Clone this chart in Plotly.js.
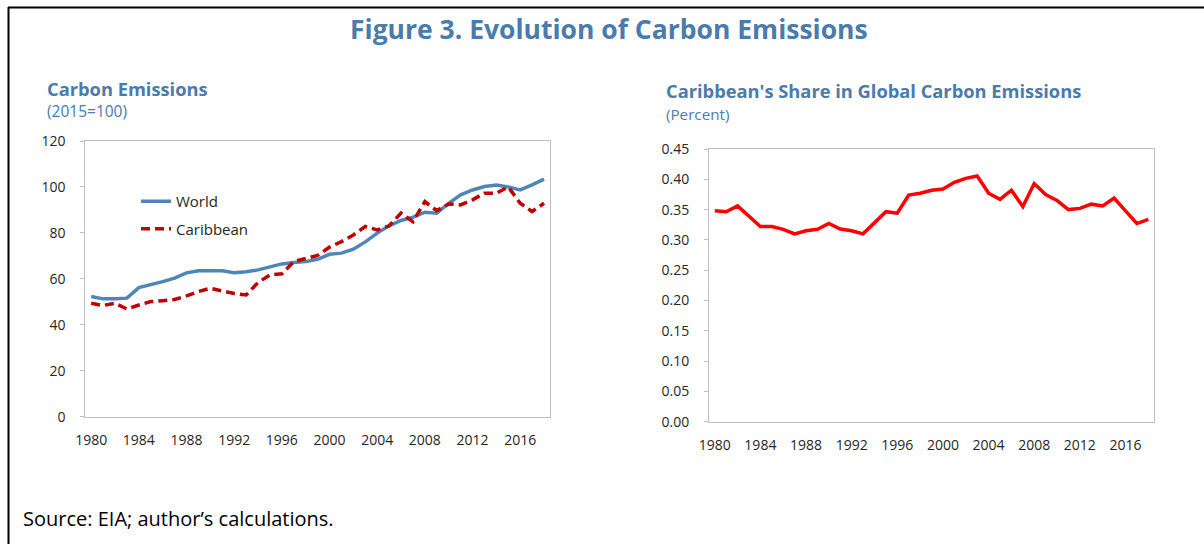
<!DOCTYPE html>
<html>
<head>
<meta charset="utf-8">
<script src="https://cdn.plot.ly/plotly-3.0.1.min.js"></script>
<style>
html,body{margin:0;padding:0;background:#fff;}
#chart{width:1204px;height:544px;}
</style>
</head>
<body>
<div id="chart"></div>
<script>
// ---- Data ----
const years = [1980,1981,1982,1983,1984,1985,1986,1987,1988,1989,1990,1991,1992,1993,1994,1995,1996,1997,1998,1999,2000,2001,2002,2003,2004,2005,2006,2007,2008,2009,2010,2011,2012,2013,2014,2015,2016,2017,2018];
const worldIndex = [52.3,51.3,51.3,51.6,56.2,57.4,58.8,60.3,62.6,63.5,63.5,63.5,62.7,63.1,63.9,65.3,66.5,67.1,67.5,68.5,70.7,71.2,72.9,76.1,79.9,83.1,85.4,86.8,89.0,88.6,92.9,96.6,98.7,100.2,100.8,100.0,98.7,100.9,103.4];
const caribbeanIndex = [49.4,48.4,49.4,46.9,48.6,50.1,50.5,51.0,52.6,54.5,55.9,54.6,53.6,53.0,58.4,61.7,62.2,67.5,68.7,70.2,73.8,76.2,79.1,82.8,81.3,83.1,88.6,84.9,93.6,89.7,92.6,92.2,94.4,97.3,97.3,100.0,92.9,89.3,92.9];
const caribbeanShare = [0.348,0.3465,0.356,0.338,0.322,0.322,0.3175,0.310,0.315,0.3175,0.327,0.318,0.315,0.310,0.329,0.3465,0.344,0.374,0.377,0.382,0.384,0.395,0.4016,0.4054,0.377,0.367,0.382,0.355,0.393,0.375,0.365,0.350,0.352,0.359,0.356,0.369,0.348,0.327,0.334];
const yearLabels = [1980,1984,1988,1992,1996,2000,2004,2008,2012,2016];
const leftTicks = [0,20,40,60,80,100,120];
const rightTicks = [0,0.05,0.10,0.15,0.20,0.25,0.30,0.35,0.40,0.45];

const FONT = 'Open Sans, Noto Sans, sans-serif';
const BLUE_T = '#4A7BAA';
const FRAME = '#BFBFBF';
const TXT = '#262626';

const traces = [
  {x: years, y: worldIndex, type: 'scatter', mode: 'lines', name: 'World',
   xaxis: 'x', yaxis: 'y', legendgroup: 'a',
   line: {color: '#4F86B8', width: 3.5}},
  {x: years, y: caribbeanIndex, type: 'scatter', mode: 'lines', name: 'Caribbean',
   xaxis: 'x', yaxis: 'y', legendgroup: 'b',
   line: {color: '#C00000', width: 3.5, dash: '9px,5px'}},
  {x: years, y: caribbeanShare, type: 'scatter', mode: 'lines', name: 'Share',
   xaxis: 'x2', yaxis: 'y2', showlegend: false,
   line: {color: '#FF0000', width: 3.5}}
];

const xr = [years[0] - 0.5, years[years.length - 1] + 0.5];

function labelAxis(domain, anchor) {
  return {domain: domain, anchor: anchor, range: xr, type: 'linear',
    tickmode: 'array', tickvals: yearLabels, ticktext: yearLabels.map(String),
    ticks: '', showgrid: false, zeroline: false,
    showline: true, linecolor: FRAME, linewidth: 1, mirror: true,
    ticklabelstandoff: 10,
    tickfont: {family: FONT, size: 14, color: TXT}, fixedrange: true};
}
function tickAxis(over, anchor) {
  return {overlaying: over, anchor: anchor, range: xr, type: 'linear',
    tick0: xr[0], dtick: 1, ticks: 'inside', ticklen: 4, tickcolor: FRAME, tickwidth: 1,
    showticklabels: false, showgrid: false, zeroline: false, showline: false, fixedrange: true};
}

const layout = {
  width: 1204, height: 544,
  margin: {l: 0, r: 0, t: 0, b: 0},
  paper_bgcolor: '#fff', plot_bgcolor: '#fff',
  font: {family: FONT, color: TXT},
  xaxis: labelAxis([0.0708, 0.4568], 'y'),
  xaxis3: tickAxis('x', 'y'),
  yaxis: {domain: [0.234, 0.7408], anchor: 'x', range: [0, 120],
    tickmode: 'array', tickvals: leftTicks, ticks: 'outside', ticklen: 4, tickcolor: FRAME,
    showgrid: false, zeroline: false, showline: true, linecolor: FRAME, mirror: true,
    ticklabelstandoff: 12,
    tickfont: {family: FONT, size: 14, color: TXT}, fixedrange: true},
  xaxis2: labelAxis([0.5889, 0.9585], 'y2'),
  xaxis4: tickAxis('x2', 'y2'),
  yaxis2: {domain: [0.2248, 0.7261], anchor: 'x2', range: [0, 0.45],
    tickmode: 'array', tickvals: rightTicks, tickformat: '.2f', ticks: 'outside', ticklen: 4, tickcolor: FRAME,
    showgrid: false, zeroline: false, showline: true, linecolor: FRAME, mirror: true,
    ticklabelstandoff: 12,
    tickfont: {family: FONT, size: 14, color: TXT}, fixedrange: true},
  showlegend: true,
  legend: {x: 136/1204, xanchor: 'left', y: (544 - 185)/544, yanchor: 'top',
    bgcolor: 'rgba(0,0,0,0)', borderwidth: 0, traceorder: 'grouped', tracegroupgap: 5,
    font: {family: FONT, size: 15, color: TXT}},
  annotations: [
    {text: '<b>Figure 3. Evolution of Carbon Emissions</b>', xref: 'paper', yref: 'paper',
     x: 609/1204, y: (544 - 29)/544, xanchor: 'center', yanchor: 'middle', showarrow: false,
     font: {family: FONT, size: 26.5, color: BLUE_T}},
    {text: '<b>Carbon Emissions</b>', xref: 'paper', yref: 'paper',
     x: 45/1204, y: (544 - 89)/544, xanchor: 'left', yanchor: 'middle', showarrow: false,
     font: {family: FONT, size: 18.3, color: BLUE_T}},
    {text: '(2015=100)', xref: 'paper', yref: 'paper',
     x: 45/1204, y: (544 - 111)/544, xanchor: 'left', yanchor: 'middle', showarrow: false,
     font: {family: FONT, size: 15.5, color: BLUE_T}},
    {text: "<b>Caribbean's Share in Global Carbon Emissions</b>", xref: 'paper', yref: 'paper',
     x: 664/1204, y: (544 - 91)/544, xanchor: 'left', yanchor: 'middle', showarrow: false,
     font: {family: FONT, size: 18.3, color: BLUE_T}},
    {text: '(Percent)', xref: 'paper', yref: 'paper',
     x: 664/1204, y: (544 - 114)/544, xanchor: 'left', yanchor: 'middle', showarrow: false,
     font: {family: FONT, size: 15.2, color: BLUE_T}},
    {text: 'Source: EIA; author\u2019s calculations.', xref: 'paper', yref: 'paper',
     x: 21/1204, y: (544 - 518)/544, xanchor: 'left', yanchor: 'middle', showarrow: false,
     font: {family: FONT, size: 20, color: '#000'}}
  ],
  shapes: [
    {type: 'line', xref: 'paper', yref: 'paper', x0: 8/1204, x1: 1, y0: (544 - 7.5)/544, y1: (544 - 7.5)/544,
     line: {color: '#000', width: 2}},
    {type: 'line', xref: 'paper', yref: 'paper', x0: 8.5/1204, x1: 8.5/1204, y0: 0, y1: (544 - 7)/544,
     line: {color: '#000', width: 2}}
  ]
};

Plotly.newPlot('chart', traces, layout, {displayModeBar: false, staticPlot: true});
</script>
</body>
</html>
